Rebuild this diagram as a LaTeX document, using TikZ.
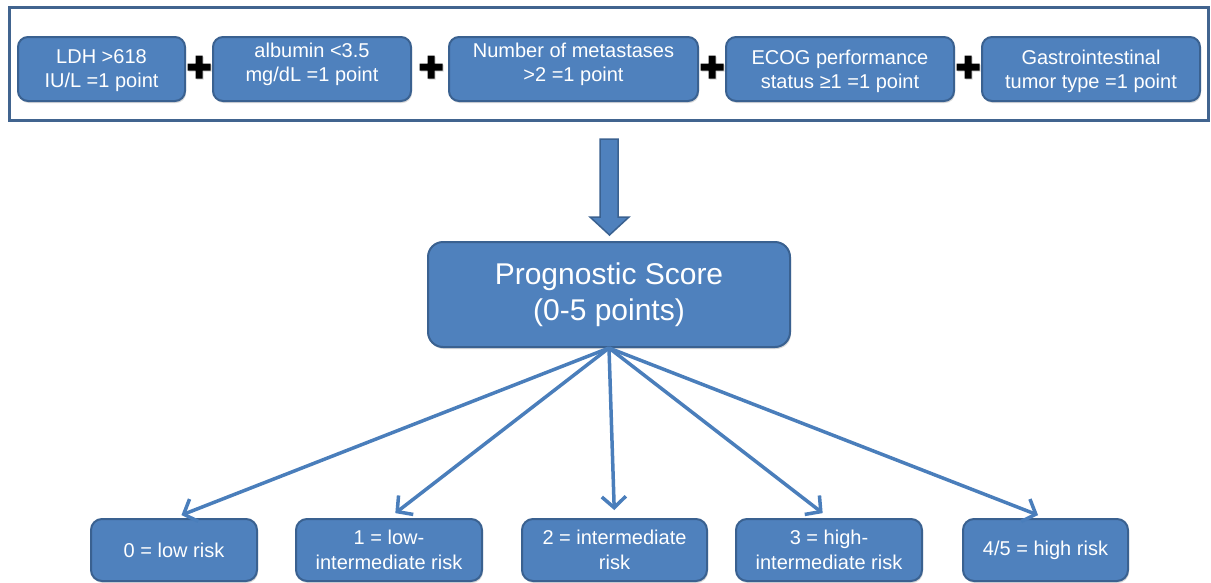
\documentclass[tikz,border=0pt]{standalone}
\usepackage{fontspec}
\setmainfont{Liberation Sans}
\usetikzlibrary{arrows.meta,shadows}
\definecolor{boxfill}{HTML}{4F81BD}
\definecolor{boxline}{HTML}{3A6190}
\definecolor{arrowc}{HTML}{4A7EBB}
\definecolor{framec}{HTML}{41648F}
\tikzset{
  shad/.style={drop shadow={shadow xshift=1pt,shadow yshift=-2pt,opacity=0.3}},
  bx/.style={draw=boxline, line width=2pt, fill=boxfill, text=white, align=center, inner sep=0pt, shad},
  topbox/.style={bx, rounded corners=10pt, minimum height=64pt, font=\fontsize{20}{24}\selectfont},
  tl/.style={text=white, align=center, inner sep=0pt, font=\fontsize{20}{24}\selectfont},
  riskbox/.style={bx, rounded corners=11pt, minimum height=62pt, font=\fontsize{20}{25}\selectfont},
  progbox/.style={bx, rounded corners=15pt, minimum width=362pt, minimum height=105pt, font=\fontsize{30}{36}\selectfont},
  conn/.style={draw=arrowc, line width=3.5pt, -{Straight Barb[length=11pt,width=24pt,line width=3.5pt]}, shorten >=8pt},
  plussign/.pic={
    \fill[black, drop shadow={shadow xshift=1pt,shadow yshift=-1pt,opacity=0.35}]
      (-11.5,-3.5) -- (-3.5,-3.5) -- (-3.5,-11.5) -- (3.5,-11.5) -- (3.5,-3.5) -- (11.5,-3.5)
      -- (11.5,3.5) -- (3.5,3.5) -- (3.5,11.5) -- (-3.5,11.5) -- (-3.5,3.5) -- (-11.5,3.5) -- cycle;
  }
}
\begin{document}
\begin{tikzpicture}[x=1pt,y=-1pt]
\useasboundingbox (0,0) rectangle (1211,582);
% outer frame
\node[draw=framec, line width=3pt, minimum width=1199pt, minimum height=113pt, inner sep=0pt] (frame) at (608.5,63.5) {};
% top boxes
\node[topbox, minimum width=167pt, label={[tl, yshift=-2pt]center:{LDH >618\\IU/L =1 point}}] (b1) at (101.5,69) {};
\node[topbox, minimum width=198pt, label={[tl, yshift=5pt]center:{albumin <3.5\\mg/dL =1 point}}] (b2) at (312,69) {};
\node[topbox, minimum width=249pt, label={[tl, yshift=5pt]center:{Number of metastases\\>2 =1 point}}] (b3) at (573.5,69) {};
\node[topbox, minimum width=228pt, label={[tl, yshift=-2pt]center:{ECOG performance\\status ≥1 =1 point}}] (b4) at (840,69) {};
\node[topbox, minimum width=218pt, label={[tl, yshift=-2pt]center:{Gastrointestinal\\tumor type =1 point}}] (b5) at (1091,69) {};
% plus signs
\pic at (199,67) {plussign};
\pic at (431,67) {plussign};
\pic at (712,67) {plussign};
\pic at (968,67) {plussign};
% block arrow
\filldraw[fill=boxfill, draw=boxline, line width=1.5pt]
  (600,139) -- (618,139) -- (618,217) -- (629,217) -- (609.5,235) -- (590,217) -- (600,217) -- cycle;
% prognostic score
\node[progbox] (prog) at (609,294.5) {Prognostic Score\\(0-5 points)};
% risk boxes
\node[riskbox, minimum width=166pt] (r0) at (174,550) {0 = low risk};
\node[riskbox, minimum width=186pt] (r1) at (389,550) {1 = low-\\intermediate risk};
\node[riskbox, minimum width=185pt] (r2) at (614.5,550) {2 = intermediate\\risk};
\node[riskbox, minimum width=186pt] (r3) at (829,550) {3 = high-\\intermediate risk};
\node[riskbox, minimum width=165pt] (r4) at (1045.5,550) {4/5 = high risk};
% connectors
\foreach \t in {r0,r1,r2,r3,r4}{
  \draw[conn] (prog.south) -- (\t.north);
}
\end{tikzpicture}
\end{document}
